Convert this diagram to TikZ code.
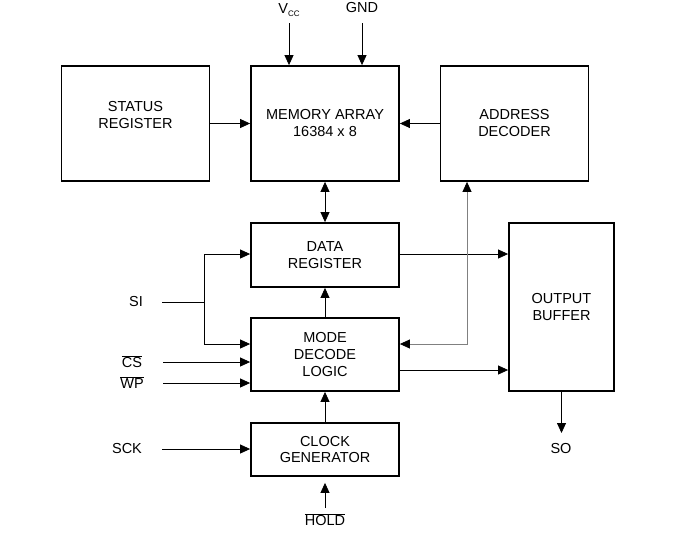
\documentclass[tikz,border=0pt]{standalone}
\usepackage{fontspec}
\setmainfont{Liberation Sans}
\usetikzlibrary{arrows.meta}
\begin{document}
\begin{tikzpicture}[x=1pt,y=-1pt,
    >={Triangle[length=10pt,width=9pt,color=black]},
    blk/.style={draw,line width=1.8pt,align=center,inner sep=0pt,
      minimum width=148pt,font=\fontsize{14.5}{17}\selectfont},
    lbl/.style={inner sep=0pt,font=\fontsize{14.5}{17}\selectfont},
    sig/.style={line width=0.8pt,->}]
  \useasboundingbox (0,0) rectangle (696,544);
  \draw
    (135.5,123.5) node[blk,minimum height=115pt] (status){STATUS\\REGISTER\\[0pt]}
    (325,123.5) node[blk,minimum height=115pt] (mem){MEMORY ARRAY\\16384 x 8}
    (514.5,123.5) node[blk,minimum height=115pt] (addr){ADDRESS\\DECODER}
    (325,255) node[blk,minimum height=64pt] (data){DATA\\REGISTER}
    (325,354.5) node[blk,minimum height=73pt] (mode){MODE\\DECODE\\LOGIC}
    (325,449.5) node[blk,minimum height=53pt] (clock){CLOCK\\GENERATOR}
    (561.5,307) node[blk,minimum width=105pt,minimum height=168pt] (out){OUTPUT\\BUFFER};
  \draw
    (289,10) node[lbl] (vcc){V\raisebox{-0.35ex}{\fontsize{8}{8}\selectfont CC}}
    (362,8) node[lbl] (gnd){GND}
    (136,302) node[lbl] (si){SI}
    (132,362) node[lbl] (cs){$\overline{\mbox{CS}}$}
    (132,383) node[lbl] (wp){$\overline{\mbox{WP}}$}
    (127,449) node[lbl] (sck){SCK}
    (325,520) node[lbl] (hold){$\overline{\mbox{HOLD}}$}
    (561,449) node[lbl] (so){SO};
  \coordinate (vccin) at (289,23);
  \coordinate (gndin) at (362,23);
  \coordinate (siin) at (162,302);
  \coordinate (sijoin) at (204,302);
  \coordinate (csin) at (163,362);
  \coordinate (wpin) at (163,383);
  \coordinate (sckin) at (162,449);
  \coordinate (holdin) at (325,508);
  \begin{scope}[sig]
    \draw (vccin) to (mem.north -| vccin);
    \draw (gndin) to (mem.north -| gndin);
    \draw (status.east) to (mem.west);
    \draw (addr.west) to (mem.east);
    \draw[<->] (mem.south) to (data.north);
    \draw[-] (siin) to (sijoin);
    \draw (sijoin) |- (data.west |- 0,254);
    \draw (sijoin) |- (mode.west |- 0,344);
    \draw (csin) to (mode.west |- csin);
    \draw (wpin) to (mode.west |- wpin);
    \draw (sckin) to (clock.west |- sckin);
    \draw (mode.north) to (data.south);
    \draw (clock.north) to (mode.south);
    \draw (holdin) to ([yshift=-6pt]clock.south);
    \draw (data.east |- 0,254) to (out.west |- 0,254);
    \draw (mode.east |- 0,370) to (out.west |- 0,370);
    \draw (out.south) to (out.south |- 0,433);
    \draw[gray,<->] (addr.south -| 467,0) |- (mode.east |- 0,344);
  \end{scope}
\end{tikzpicture}
\end{document}
